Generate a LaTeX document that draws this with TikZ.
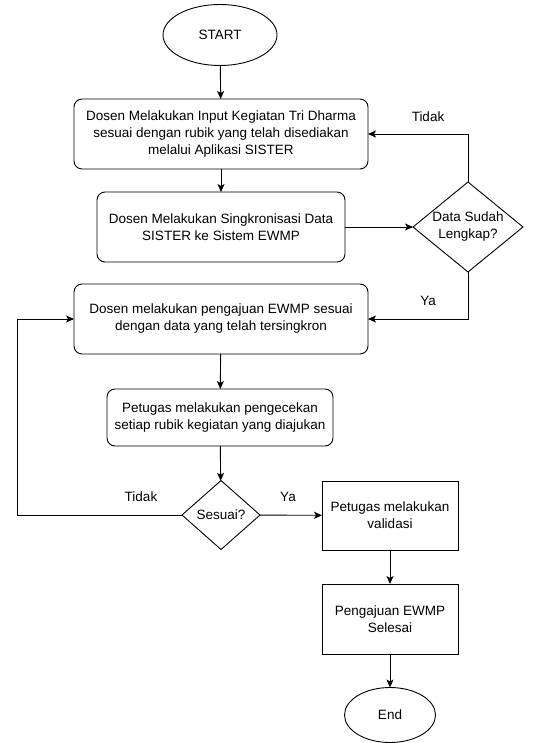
\documentclass[tikz,border=0pt]{standalone}
\usepackage{fontspec}
\setmainfont{Liberation Sans}
\usetikzlibrary{shapes.geometric,arrows.meta,positioning}
\tikzstyle{every node}=[font=\fontsize{13.5}{17}\selectfont, inner sep=0, outer sep=0]
\tikzstyle{garis}=[line width=0.9pt]
\tikzstyle{proses}=[draw, garis, rounded corners=8pt, align=center]
\tikzstyle{kotak}=[draw, garis, align=center, minimum width=136pt]
\tikzstyle{terminal}=[draw, garis, ellipse]
\tikzstyle{keputusan}=[draw, garis, diamond, align=center]
\tikzstyle{panah}=[garis, -{Stealth[length=8pt, width=7pt, inset=2pt]}]

\begin{document}
\begin{tikzpicture}[x=1pt, y=1pt]
\useasboundingbox (0,0) rectangle (534,-743);

\node[terminal, minimum width=114pt, minimum height=61pt] (start) at (220,-35) {START};
\node[proses, minimum width=294pt, minimum height=70pt] (input) at (221,-134)
  {Dosen Melakukan Input Kegiatan Tri Dharma\\sesuai dengan rubik yang telah disediakan\\melalui Aplikasi SISTER};
\node[proses, minimum width=248pt, minimum height=70pt] (sinkron) at (221,-227)
  {Dosen Melakukan Singkronisasi Data\\SISTER ke Sistem EWMP};
\node[keputusan, shape aspect=1.3, minimum width=110pt, minimum height=90pt] (lengkap) at (468,-227)
  {Data Sudah\\Lengkap?};
\node[proses, minimum width=294pt, minimum height=70pt] (ajuan) at (221,-319)
  {Dosen melakukan pengajuan EWMP sesuai\\dengan data yang telah tersingkron};
\node[proses, minimum width=226pt, minimum height=57pt] (cek) at (220,-417.5)
  {Petugas melakukan pengecekan\\setiap rubik kegiatan yang diajukan};
\node[keputusan, minimum width=78pt, minimum height=69pt] (sesuai) at (221,-515) {Sesuai?};
\node[kotak, minimum height=69pt] (validasi) at (390,-515.5) {Petugas melakukan\\validasi};
\node[kotak, minimum height=70pt] (selesai) at (390,-619) {Pengajuan EWMP\\Selesai};
\node[terminal, minimum width=91pt, minimum height=55pt] (end) at (390,-715) {End};

% label cabang
\node (tidak1) at (428,-117) {Tidak};
\node (ya1) at (428,-301) {Ya};
\node (tidak2) at (141,-497) {Tidak};
\node (ya2) at (288,-497) {Ya};

\coordinate (belok) at (17,-515);

\draw[panah] (start) -- (input);
\draw[panah] (input) -- (sinkron);
\draw[panah] (sinkron) -- (lengkap);
\draw[panah] (lengkap.north) |- (input.east);
\draw[panah] (lengkap.south) |- (ajuan.east);
\draw[panah] (ajuan) -- (cek);
\draw[panah] (cek) -- (sesuai);
\draw[panah] (sesuai) -- (validasi);
\draw[panah] (sesuai.west) -- (belok) |- (ajuan.west);
\draw[panah] (validasi) -- (selesai);
\draw[panah] (selesai) -- (end);
\end{tikzpicture}
\end{document}
